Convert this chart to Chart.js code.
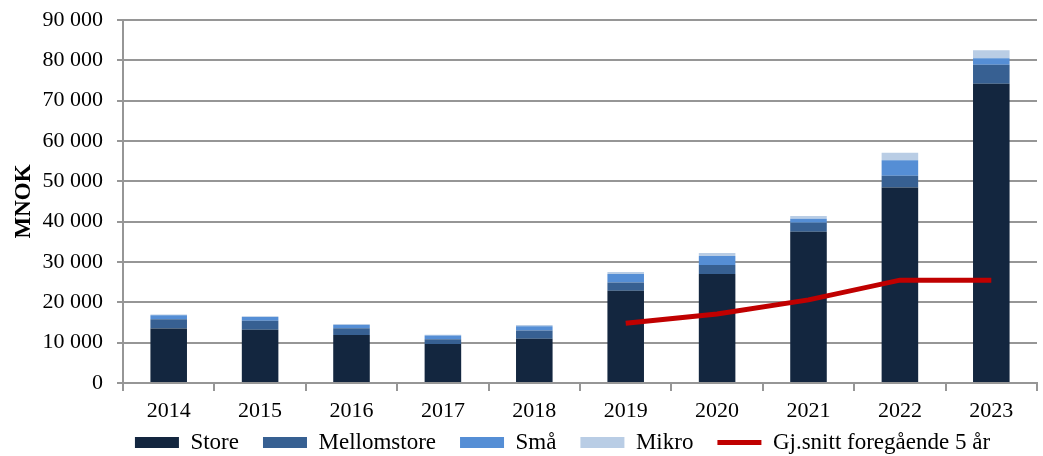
<!DOCTYPE html>
<html>
<head>
    <title>MNOK per år</title>
    <script src="https://cdn.jsdelivr.net/npm/chart.js"></script>
    <style>
        html, body { margin: 0; padding: 0; background: #fff; }
        #wrap { width: 1043px; height: 456px; }
    </style>
</head>
<body>
    <div id="wrap"><canvas id="chart" width="1043" height="456"></canvas></div>
    <script>
        const years = ['2014', '2015', '2016', '2017', '2018', '2019', '2020', '2021', '2022', '2023'];
        const store = [13500, 13200, 11900, 9700, 11000, 22900, 27000, 37500, 48500, 74200];
        const mellomstore = [2300, 2250, 1650, 1150, 2000, 2000, 2250, 2250, 2900, 4700];
        const smaa = [1000, 900, 850, 900, 1100, 2150, 2250, 1000, 3800, 1600];
        const mikro = [200, 200, 250, 200, 300, 500, 750, 650, 1900, 2000];
        const snitt5 = [null, null, null, null, null, 14800, 17100, 20600, 25500, 25500];
        const yTicks = [0, 10000, 20000, 30000, 40000, 50000, 60000, 70000, 80000, 90000];

        const serif = "'Liberation Serif', 'Times New Roman', serif";
        const gridGrey = '#969696';
        const legendGap = 24;   // horizontal gap between legend items

        function barSet(label, data, color) {
            return {
                type: 'bar', label: label, data: data, backgroundColor: color,
                stack: 'bars', order: 2, barPercentage: 0.4, categoryPercentage: 1,
                pointStyle: 'rect'
            };
        }

        // legend padding is used both ways; keep the wide gap sideways but a tight box vertically
        const tightLegend = {
            id: 'tightLegend',
            afterInit(chart) {
                const lg = chart.legend;
                const fit = lg.fit;
                lg.fit = function () { fit.call(this); this.height = 30; };
            },
            afterLayout(chart) {
                const lg = chart.legend;
                lg.top -= legendGap - 5;
                lg.left += 44;
                lg.right += 44;
            }
        };

        new Chart(document.getElementById('chart'), {
            data: {
                labels: years,
                datasets: [
                    barSet('Store', store, '#13263f'),
                    barSet('Mellomstore', mellomstore, '#376092'),
                    barSet('Små', smaa, '#558ed5'),
                    barSet('Mikro', mikro, '#b9cde5'),
                    {
                        type: 'line', label: 'Gj.snitt foregående 5 år', data: snitt5,
                        borderColor: '#c00000', backgroundColor: '#c00000', borderWidth: 5,
                        pointRadius: 0, tension: 0, stack: 'avg', order: 1, pointStyle: 'line'
                    }
                ]
            },
            plugins: [tightLegend],
            options: {
                responsive: false,
                animation: false,
                layout: { padding: { top: 20, right: 6, left: 0, bottom: 0 } },
                plugins: {
                    tooltip: { enabled: false },
                    legend: {
                        position: 'bottom',
                        labels: {
                            usePointStyle: true,
                            pointStyleWidth: 44,
                            boxHeight: 11,
                            padding: legendGap,
                            color: '#000',
                            font: { family: serif, size: 23 },
                            sort: (a, b) => a.datasetIndex - b.datasetIndex
                        }
                    }
                },
                scales: {
                    x: {
                        stacked: true,
                        offset: true,
                        grid: {
                            offset: true, drawOnChartArea: false, drawTicks: true,
                            tickLength: 8, color: gridGrey, lineWidth: 2
                        },
                        border: { color: gridGrey, width: 2 },
                        ticks: { color: '#000', font: { family: serif, size: 22 }, padding: 7 },
                        afterFit: s => { s.height = 43; }
                    },
                    y: {
                        stacked: true,
                        min: 0, max: 90000,
                        afterBuildTicks: s => { s.ticks = yTicks.map(v => ({ value: v })); },
                        grid: { color: gridGrey, lineWidth: 2, tickLength: 6 },
                        border: { color: gridGrey, width: 2 },
                        ticks: {
                            color: '#000', padding: 14,
                            font: { family: serif, size: 22 },
                            callback: v => v.toLocaleString('nb-NO').replace(/\s/g, ' ')
                        },
                        title: {
                            display: true, text: 'MNOK', color: '#000',
                            font: { family: serif, size: 23, weight: 'bold' }, padding: { top: 10 }
                        },
                        afterFit: s => {
                            s.width = 123;
                            s.paddingTop = 0;
                            s.paddingBottom = 0;
                        }
                    }
                }
            }
        });
    </script>
</body>
</html>
